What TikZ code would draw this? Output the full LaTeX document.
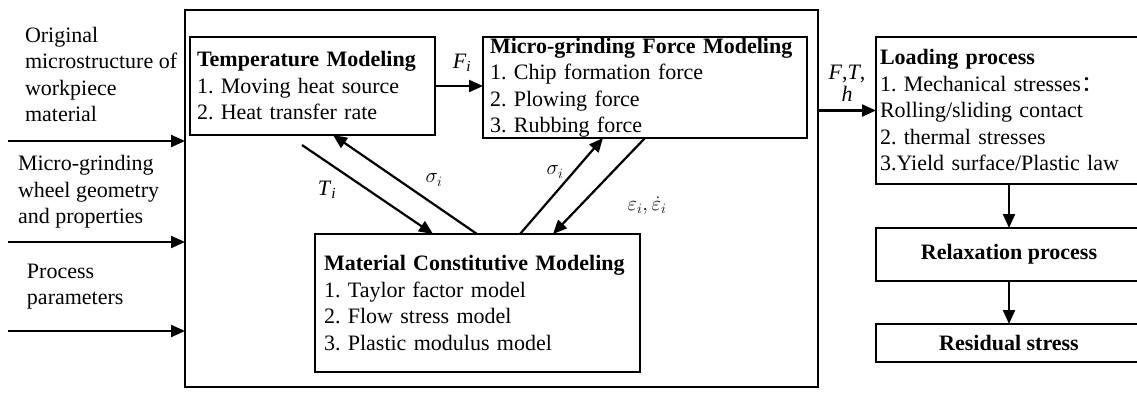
\documentclass[tikz,border=0pt]{standalone}
\usepackage{fontspec}
\setmainfont{Liberation Serif}
\newfontfamily\cjk{Noto Sans CJK SC}
\usetikzlibrary{arrows.meta}
\frenchspacing
\begin{document}
\begin{tikzpicture}[x=1pt,y=-1pt,
  every node/.style={font=\fontsize{22}{26.5}\selectfont, inner sep=0pt, outer sep=0pt},
  box/.style={draw, line width=1.4pt, anchor=north west, align=left},
  cbox/.style={draw, line width=1.4pt, anchor=north west, align=center, minimum width=266pt},
  arr/.style={line width=2.2pt, -{Triangle[length=14pt,width=12pt]}},
  lbl/.style={font=\fontsize{22}{22}\selectfont}]
\useasboundingbox (0,0) rectangle (1137,392);
\clip (0,0) rectangle (1137,392);

% outer frame of the coupled model
\node[draw, line width=1.8pt, anchor=north west, minimum width=633pt, minimum height=377pt] (frame) at (185,10) {};

% inputs
\node[anchor=west, align=left] (in1txt) at (25,74.5) {Original\\microstructure of\\workpiece\\material};
\node[anchor=west, align=left] (in2txt) at (18,192) {Micro-grinding\\wheel geometry\\and properties};
\node[anchor=west, align=left] (in3txt) at (27,286.5) {Process\\parameters};
\coordinate (src1) at (8,141);
\coordinate (src2) at (8,242);
\coordinate (src3) at (8,331);

% sub-models
\node[box, inner xsep=7pt, text width=231pt, minimum height=98pt] (temp) at (190,37)
  {\textbf{Temperature Modeling}\\1. Moving heat source\\2. Heat transfer rate};
\node[box, inner xsep=7pt, text width=310pt, minimum height=101pt] (force) at (483,37)
  {\textbf{Micro-grinding Force Modeling}\\1. Chip formation force\\2. Plowing force\\3. Rubbing force};
\node[box, inner xsep=9pt, text width=307pt, minimum height=138pt] (mat) at (315,234)
  {\textbf{Material Constitutive Modeling}\\1. Taylor factor model\\2. Flow stress model\\3. Plastic modulus model};

% process chain
\node[box, inner xsep=4pt, text width=258pt, minimum height=147pt] (load) at (876,37)
  {\textbf{Loading process}\\1. Mechanical stresses{\cjk ：}\\Rolling/sliding contact\\2. thermal stresses\\3.Yield surface/Plastic law};
\node[cbox, minimum height=53pt] (relax) at (876,228) {\textbf{Relaxation process}};
\node[cbox, minimum height=38pt] (resid) at (876,324) {\textbf{Residual stress}};

% connectors
\draw[arr] (src1) -- (src1 -| frame.west);
\draw[arr] (src2) -- (src2 -| frame.west);
\draw[arr] (src3) -- (src3 -| frame.west);
\draw[arr] (temp.east) -- (temp.east -| force.west);
\draw[arr] ([xshift=112pt,yshift=-10pt]temp.south west) -- ([xshift=118pt]mat.north west);
\draw[arr] ([xshift=162pt]mat.north west) -- ([xshift=143pt]temp.south west);
\draw[arr] ([xshift=205pt]mat.north west) -- ([xshift=120pt]force.south west);
\draw[arr] ([xshift=162pt]force.south west) -- ([xshift=238pt]mat.north west);
\draw[arr] (frame.east |- load.west) -- (load.west);
\draw[arr] (load.south) -- (relax.north);
\draw[arr] (relax.south) -- (resid.north);

% labels
\node[lbl] (lF) at (462,63) {\textit{F}\textsubscript{\textit{i}}};
\node[lbl] (lT) at (327,190) {\textit{T}\textsubscript{\textit{i}}};
\node[lbl] (ls1) at (434,180) {$\sigma_i$};
\node[lbl] (ls2) at (555,172) {$\sigma_i$};
\node[lbl, font=\fontsize{20}{20}\selectfont] (le) at (647,206) {$\varepsilon_i,\dot{\varepsilon}_i$};
\node[lbl, align=center] (lFTh) at (847,83) {\textit{F},\textit{T},\\\textit{h}};
\end{tikzpicture}
\end{document}
